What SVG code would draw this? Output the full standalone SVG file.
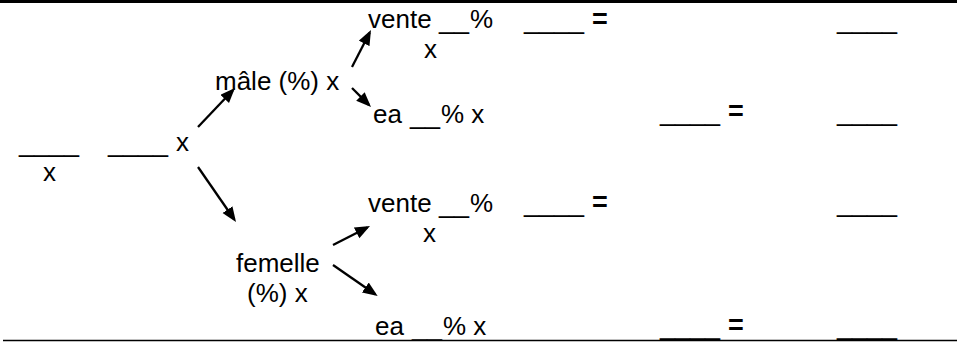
<svg xmlns="http://www.w3.org/2000/svg" width="957" height="342" viewBox="0 0 957 342">
<style>
text{font-family:"Liberation Sans",Arial,sans-serif;font-size:26px;fill:#000}
.u{font-size:27px}
.r{font-size:27px}
.eq{font-weight:bold}
.c{stroke:#000;stroke-width:2.3;fill:none}
</style>
<defs>
<marker id="ah" markerUnits="userSpaceOnUse" markerWidth="16" markerHeight="13" refX="12" refY="6" orient="auto">
<path d="M0,0 L15,6 L0,12 z" fill="#000"/>
</marker>
</defs>
<rect x="0" y="0" width="957" height="342" fill="#fff"/>
<line x1="0" y1="1.5" x2="957" y2="1.5" stroke="#000" stroke-width="3"/>
<line x1="3" y1="340.5" x2="957" y2="340.5" stroke="#000" stroke-width="1.5"/>

<g id="root">
<text class="u" x="19" y="150.5">____</text>
<text x="43" y="181">x</text>
<text y="150.5"><tspan class="u" x="108">____</tspan><tspan x="176">x</tspan></text>
</g>

<g id="male">
<text x="215" y="90">mâle (%) x</text>
</g>

<g id="femelle">
<text x="236" y="272">femelle</text>
<text x="247" y="302">(%) x</text>
</g>

<g id="male-vente">
<text y="28"><tspan x="368">vente</tspan><tspan class="u" x="439">__</tspan><tspan x="470">%</tspan></text>
<text x="424" y="58">x</text>
</g>

<g id="male-ea">
<text y="123"><tspan x="373">ea</tspan><tspan class="u" x="410">__</tspan><tspan x="441">% x</tspan></text>
</g>

<g id="femelle-vente">
<text y="212"><tspan x="368">vente</tspan><tspan class="u" x="439">__</tspan><tspan x="470">%</tspan></text>
<text x="423" y="242">x</text>
</g>

<g id="femelle-ea">
<text y="335"><tspan x="375">ea</tspan><tspan class="u" x="412">__</tspan><tspan x="443">% x</tspan></text>
</g>

<g id="results">
<text class="r" y="28"><tspan x="524">____</tspan><tspan class="eq" x="592">=</tspan></text>
<text class="r" x="837" y="28">____</text>
<text class="r" y="120"><tspan x="660">____</tspan><tspan class="eq" x="728">=</tspan></text>
<text class="r" x="837" y="120">____</text>
<text class="r" y="211"><tspan x="524">____</tspan><tspan class="eq" x="592">=</tspan></text>
<text class="r" x="837" y="211">____</text>
<text class="r" y="334"><tspan x="660">____</tspan><tspan class="eq" x="728">=</tspan></text>
<text class="r" x="837" y="334">____</text>
</g>

<g id="connectors" class="c">
<line class="c" x1="198" y1="127" x2="232.9" y2="90.2" marker-end="url(#ah)"/>
<line class="c" x1="198" y1="167" x2="234.3" y2="219.5" marker-end="url(#ah)"/>
<line class="c" x1="352" y1="67" x2="369.6" y2="32.7" marker-end="url(#ah)"/>
<line class="c" x1="352" y1="88" x2="368.9" y2="104.9" marker-end="url(#ah)"/>
<line class="c" x1="333" y1="245" x2="367.3" y2="227.4" marker-end="url(#ah)"/>
<line class="c" x1="333" y1="265" x2="375.2" y2="294.3" marker-end="url(#ah)"/>
</g>
</svg>
